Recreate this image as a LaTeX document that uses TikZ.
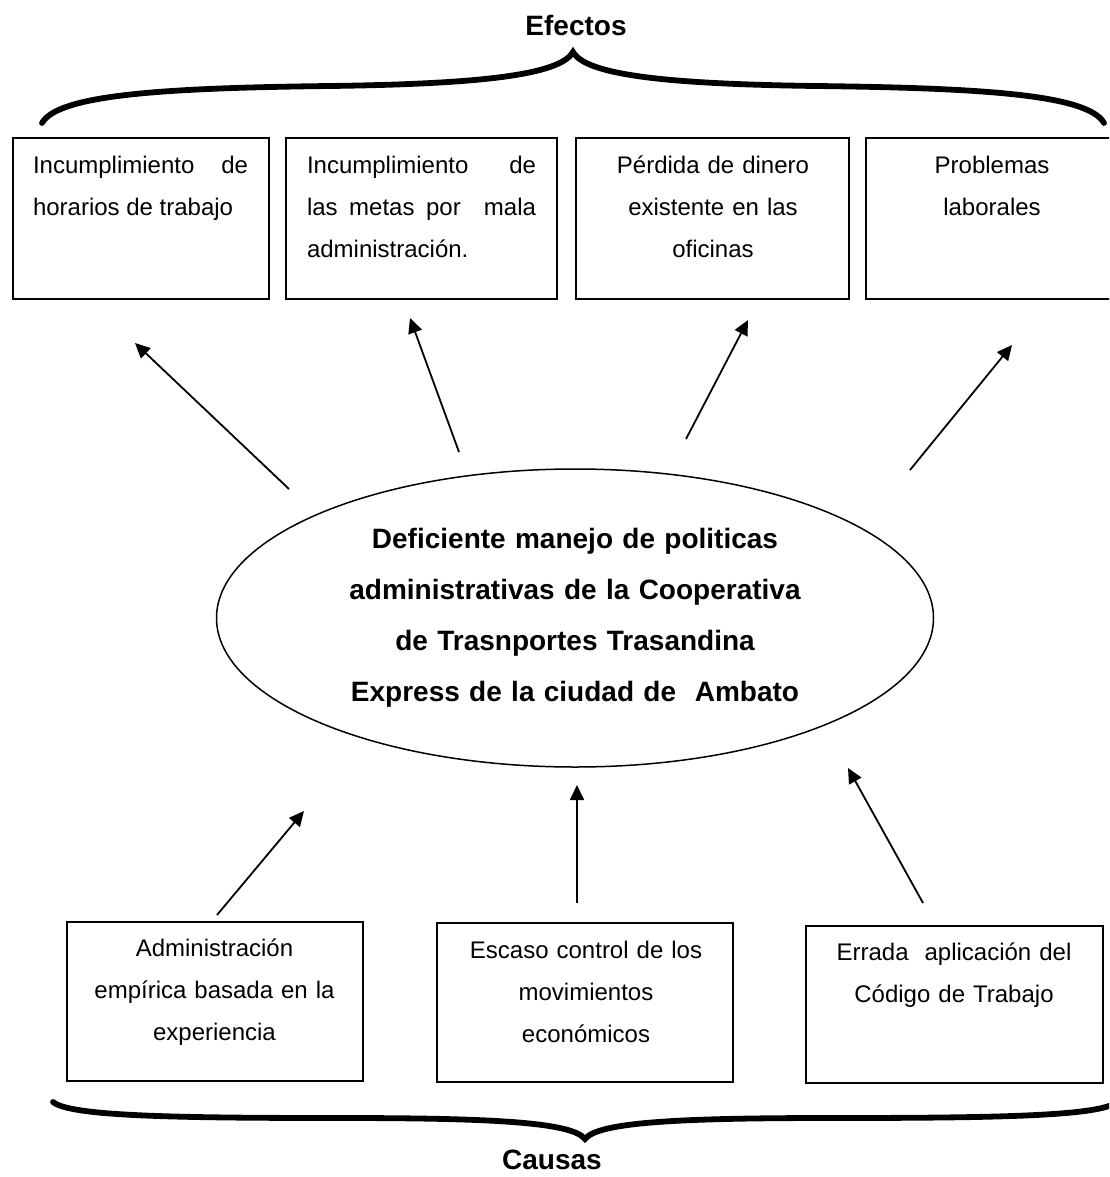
\documentclass[tikz,border=0pt]{standalone}
\usepackage{fontspec}
\setmainfont{Liberation Sans}
\usetikzlibrary{shapes.geometric,arrows.meta}

\def\topbrace{(42,123) .. controls (58,95) and (160,88) .. (330,86) .. controls (480,84) and (560,75) .. (573,52) .. controls (586,75) and (666,84) .. (816,86) .. controls (986,88) and (1088,95) .. (1104,123)}
\def\bottombrace{(53,1102) .. controls (70,1116) and (170,1118) .. (340,1118) .. controls (490,1118) and (572,1122) .. (585,1139) .. controls (598,1122) and (680,1118) .. (830,1118) .. controls (1000,1118) and (1100,1116) .. (1117,1102)}

\begin{document}
\begin{tikzpicture}[x=0.5pt,y=-0.5pt,
    cajon/.style={draw, line width=0.75pt, inner sep=0pt},
    texto/.style={inner sep=0pt, anchor=base, font=\fontsize{12}{21}\selectfont},
    flecha/.style={line width=0.9pt, -{Triangle[length=7.5pt,width=7pt]}},
    llave/.style={line width=2.9pt, line cap=round, line join=miter},
    titulo/.style={inner sep=0pt, font=\fontsize{14}{17}\selectfont\bfseries}]
  \useasboundingbox (0,0) rectangle (1109,1177);
  \clip (0,0) rectangle (1109,1177);

  \node[titulo] (efectos) at (576,25) {Efectos};
  \draw[llave] \topbrace;

  \node[cajon, minimum width=128pt, minimum height=80.5pt] (e1) at (141,218.5) {};
  \node[cajon, minimum width=135.5pt, minimum height=80.5pt] (e2) at (421.5,218.5) {};
  \node[cajon, minimum width=136.5pt, minimum height=80.5pt] (e3) at (712.5,218.5) {};
  \node[cajon, minimum width=135pt, minimum height=80.5pt] (e4) at (1001,218.5) {};

  \node[texto, text width=107.5pt, align=justify] (e1t) at (140.5,173) {Incumplimiento de\linebreak horarios de trabajo};
  \node[texto, text width=114.5pt, align=justify] (e2t) at (421.5,173) {Incumplimiento de\linebreak las metas por\ \ mala\linebreak administración.};
  \node[texto, text width=130pt, align=center] (e3t) at (713,173) {Pérdida de dinero\\existente en las\\oficinas};
  \node[texto, text width=130pt, align=center] (e4t) at (992,173) {Problemas\\laborales};

  \node[draw, ellipse, line width=0.75pt, inner sep=0pt, minimum width=358.5pt, minimum height=149pt,
        text width=240pt, align=center, font=\fontsize{14}{25.5}\selectfont\bfseries] (nucleo) at (575,618)
        {Deficiente manejo de politicas\\administrativas de la Cooperativa\\de Trasnportes Trasandina\\Express de la ciudad de\ \ Ambato};

  \coordinate (s1) at (289,489); \coordinate (h1) at (135,343);
  \coordinate (s2) at (459,452); \coordinate (h2) at (410,318);
  \coordinate (s3) at (686,439); \coordinate (h3) at (748,320);
  \coordinate (s4) at (910,470); \coordinate (h4) at (1012,345);
  \draw[flecha] (s1) -- (h1);
  \draw[flecha] (s2) -- (h2);
  \draw[flecha] (s3) -- (h3);
  \draw[flecha] (s4) -- (h4);

  \coordinate (r1) at (217,915); \coordinate (p1) at (304,811);
  \coordinate (r2) at (577,903); \coordinate (p2) at (577,785);
  \coordinate (r3) at (923,903); \coordinate (p3) at (848,768);
  \draw[flecha] (r1) -- (p1);
  \draw[flecha] (r2) -- (p2);
  \draw[flecha] (r3) -- (p3);

  \node[cajon, minimum width=148pt, minimum height=79.5pt] (c1) at (215,1001.5) {};
  \node[cajon, minimum width=148pt, minimum height=79.5pt] (c2) at (585,1002.5) {};
  \node[cajon, minimum width=148.5pt, minimum height=78.5pt] (c3) at (954.5,1004.5) {};

  \node[texto, text width=140pt, align=center] (c1t) at (214.5,956) {Administración\\empírica basada en la\\experiencia};
  \node[texto, text width=140pt, align=center] (c2t) at (586,958) {Escaso control de los\\movimientos\\económicos};
  \node[texto, text width=140pt, align=center] (c3t) at (954,960) {Errada\ \ aplicación del\\Código de Trabajo};

  \draw[llave] \bottombrace;
  \node[titulo] (causas) at (552,1160) {Causas};
\end{tikzpicture}
\end{document}
